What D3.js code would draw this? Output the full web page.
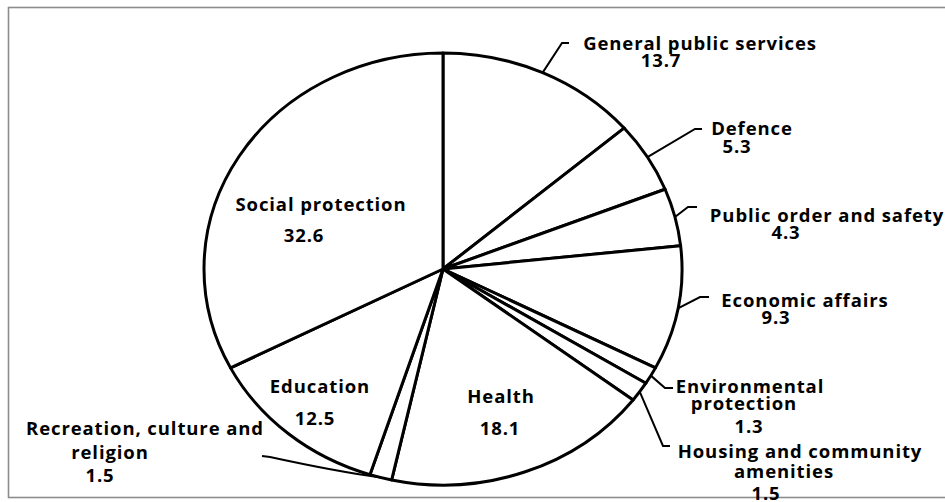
<!DOCTYPE html>
<html>
<head>
<meta charset="utf-8">
<script src="https://cdn.jsdelivr.net/npm/d3@7"></script>
<style>
  html, body { margin: 0; padding: 0; background: #fff; }
  svg { display: block; }
  text { font-family: "Open Sans", Lato, sans-serif; font-weight: bold; fill: #000; }
</style>
</head>
<body>
<svg id="chart" width="945" height="502"></svg>
<script>
// Government expenditure by function, % of total
const categories = [
  "General public services",
  "Defence",
  "Public order and safety",
  "Economic affairs",
  "Environmental protection",
  "Housing and community amenities",
  "Health",
  "Recreation, culture and religion",
  "Education",
  "Social protection"
];
const shares = [13.7, 5.3, 4.3, 9.3, 1.3, 1.5, 18.1, 1.5, 12.5, 32.6];
const valueLabels = ["13.7", "5.3", "4.3", "9.3", "1.3", "1.5", "18.1", "1.5", "12.5", "32.6"];

// Label layout: text lines with their anchor points, and the elbow of leader lines
const labelLayout = [
  { lines: [["General public services", 700, 50], ["13.7", 661, 67]], elbow: [[562, 43], [569, 43]] },
  { lines: [["Defence", 752, 135], ["5.3", 737, 153]], elbow: [[695, 129], [702, 129]] },
  { lines: [["Public order and safety", 827, 222], ["4.3", 786, 239]], elbow: [[688, 207], [697, 207]] },
  { lines: [["Economic affairs", 805, 307], ["9.3", 776, 324]], elbow: [[700, 297], [709, 297]] },
  { lines: [["Environmental", 750, 393], ["protection", 744, 410], ["1.3", 749, 433]], elbow: [[665, 388], [673, 388]] },
  { lines: [["Housing and community", 800, 458], ["amenities", 784, 478], ["1.5", 766, 500]], elbow: [[663, 446], [670, 446]] },
  { lines: [["Health", 501, 403], ["18.1", 500, 435]] },
  { lines: [["Recreation, culture and", 145, 435], ["religion", 110, 459], ["1.5", 100, 482]], elbow: [[270, 457], [262, 456]], curve: true },
  { lines: [["Education", 320, 393], ["12.5", 315, 425]] },
  { lines: [["Social protection", 321, 211], ["32.6", 304, 242]] }
];

const svg = d3.select("#chart");
const W = 945, H = 502;
const cx = 443, cy = 269;
const ry = 216;           // vertical radius
const stretch = 239 / 216; // horizontal elongation of the pie

// Chart area frame
svg.append("rect")
  .attr("x", 8.5).attr("y", 7.5)
  .attr("width", W + 10).attr("height", 490)
  .attr("fill", "none")
  .attr("stroke", "#8c8c8c")
  .attr("stroke-width", 1.6);

const pie = d3.pie().sort(null).value(d => d)(shares);
const arc = d3.arc().innerRadius(0).outerRadius(ry);

const g = svg.append("g")
  .attr("transform", `translate(${cx},${cy}) scale(${stretch},1)`);

g.selectAll("path.slice")
  .data(pie)
  .join("path")
  .attr("class", "slice")
  .attr("d", arc)
  .attr("fill", "#fff")
  .attr("stroke", "#000")
  .attr("stroke-width", 3)
  .attr("stroke-linejoin", "round")
  .attr("vector-effect", "non-scaling-stroke");

// Point on the pie rim at a slice's mid angle, in page coordinates
function rimPoint(d) {
  const a = (d.startAngle + d.endAngle) / 2;
  return [cx + Math.sin(a) * ry * stretch, cy - Math.cos(a) * ry];
}

// Leader lines for the outside labels
const line = d3.line();
pie.forEach((d, i) => {
  const lay = labelLayout[i];
  if (!lay.elbow) return;
  const p0 = rimPoint(d);
  let pathD;
  if (lay.curve) {
    const [e1, e2] = lay.elbow;
    pathD = `M${p0[0]},${p0[1]} Q${(p0[0] + e1[0]) / 2 + 10},${(p0[1] + e1[1]) / 2 + 4} ${e1[0]},${e1[1]} L${e2[0]},${e2[1]}`;
  } else {
    pathD = line([p0, ...lay.elbow]);
  }
  svg.append("path")
    .attr("d", pathD)
    .attr("fill", "none")
    .attr("stroke", "#000")
    .attr("stroke-width", 2);
});

// Category and value labels
labelLayout.forEach((lay, i) => {
  lay.lines.forEach(([txt, x, y]) => {
    svg.append("text")
      .attr("x", x).attr("y", y)
      .attr("text-anchor", "middle")
      .attr("font-size", 18.5)
      .attr("letter-spacing", 0.9)
      .text(txt);
  });
});
</script>
</body>
</html>
